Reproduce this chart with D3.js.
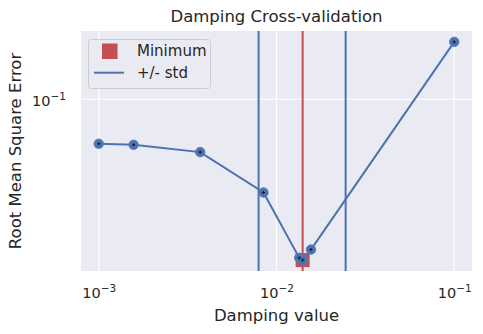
<!DOCTYPE html>
<html>
<head>
<meta charset="utf-8">
<script src="https://cdn.jsdelivr.net/npm/d3@7"></script>
<style>
  html, body { margin: 0; padding: 0; background: #ffffff; }
  svg { display: block; font-family: "DejaVu Sans", sans-serif; }
</style>
</head>
<body>
<svg id="chart" width="483" height="334"></svg>
<script>
// Cross-validation error for each damping value tried
const dampingValues = [0.001, 0.00157, 0.00372, 0.00845, 0.01343, 0.01403, 0.01563, 0.1];
const rmseValues    = [0.0596, 0.0589, 0.0541, 0.0338, 0.0158, 0.0154, 0.0174, 0.195];

// Best damping value and the one-std band around it
const minimumDamping = 0.01403;
const minimumRmse = 0.0154;
const stdBounds = [0.00793, 0.02449];

// Axis ticks
const xTickValues = [1e-3, 1e-2, 1e-1];
const xTickExponents = ["\u22123", "\u22122", "\u22121"];
const yTickValues = [1e-1];
const yTickExponents = ["\u22121"];

const title = "Damping Cross-validation";
const xLabel = "Damping value";
const yLabel = "Root Mean Square Error";
const legendLabels = ["Minimum", "+/- std"];

const blue = "#4c72b0";
const red = "#c44e52";

const svg = d3.select("#chart");
const plot = { left: 81, right: 472, top: 31, bottom: 271 };

// Log-space padding of 5% on each side of the data extent
function padLog(lo, hi, frac) {
  const a = Math.log10(lo), b = Math.log10(hi), d = (b - a) * frac;
  return [Math.pow(10, a - d), Math.pow(10, b + d)];
}

const x = d3.scaleLog()
  .domain(padLog(d3.min(dampingValues), d3.max(dampingValues), 0.05))
  .range([plot.left, plot.right]);
const y = d3.scaleLog()
  .domain(padLog(d3.min(rmseValues), d3.max(rmseValues), 0.05))
  .range([plot.bottom, plot.top]);

// Plot background
svg.append("rect")
  .attr("x", plot.left).attr("y", plot.top)
  .attr("width", plot.right - plot.left).attr("height", plot.bottom - plot.top)
  .attr("fill", "#eaeaf2");

// Grid lines
const grid = svg.append("g").attr("stroke", "#ffffff").attr("stroke-width", 1.1);
grid.selectAll("line.gx").data(xTickValues).join("line")
  .attr("x1", d => x(d)).attr("x2", d => x(d))
  .attr("y1", plot.top).attr("y2", plot.bottom);
grid.selectAll("line.gy").data(yTickValues).join("line")
  .attr("x1", plot.left).attr("x2", plot.right)
  .attr("y1", d => y(d)).attr("y2", d => y(d));

// Tick labels written as 10 with a superscript exponent
const xAxis = svg.append("g")
  .attr("transform", `translate(0,${plot.bottom})`)
  .call(d3.axisBottom(x).tickValues(xTickValues).tickSize(0).tickFormat(() => ""));
xAxis.select(".domain").remove();
xAxis.selectAll(".tick").each(function(d, i) {
  const t = d3.select(this).select("text")
    .attr("y", 0).attr("dy", 0)
    .attr("transform", "translate(0,27)")
    .attr("fill", "#262626").attr("font-size", 14.5)
    .attr("font-family", "DejaVu Sans").attr("text-anchor", "middle");
  t.append("tspan").text("10");
  t.append("tspan").attr("dy", -6).attr("font-size", 10.5).text(xTickExponents[i]);
});

const yAxis = svg.append("g")
  .attr("transform", `translate(${plot.left},0)`)
  .call(d3.axisLeft(y).tickValues(yTickValues).tickSize(0).tickFormat(() => ""));
yAxis.select(".domain").remove();
yAxis.selectAll(".tick").each(function(d, i) {
  const t = d3.select(this).select("text")
    .attr("x", 0).attr("dy", 0)
    .attr("transform", "translate(-15,6)")
    .attr("fill", "#262626").attr("font-size", 14.5)
    .attr("font-family", "DejaVu Sans").attr("text-anchor", "end");
  t.append("tspan").text("10");
  t.append("tspan").attr("dy", -6).attr("font-size", 10.5).text(yTickExponents[i]);
});

// Clip marks to the plot area
svg.append("clipPath").attr("id", "plotclip").append("rect")
  .attr("x", plot.left).attr("y", plot.top)
  .attr("width", plot.right - plot.left).attr("height", plot.bottom - plot.top);
const marks = svg.append("g").attr("clip-path", "url(#plotclip)");

// Minimum marker
const sq = 14;
marks.append("rect")
  .attr("x", x(minimumDamping) - sq / 2).attr("y", y(minimumRmse) - sq / 2)
  .attr("width", sq).attr("height", sq)
  .attr("fill", red);

// Std bounds and minimum position
marks.selectAll("line.std").data(stdBounds).join("line")
  .attr("x1", d => x(d)).attr("x2", d => x(d))
  .attr("y1", plot.top).attr("y2", plot.bottom)
  .attr("stroke", blue).attr("stroke-width", 2);
marks.append("line")
  .attr("x1", x(minimumDamping)).attr("x2", x(minimumDamping))
  .attr("y1", plot.top).attr("y2", plot.bottom)
  .attr("stroke", red).attr("stroke-width", 2);

// Error curve
const pts = dampingValues.map((d, i) => [d, rmseValues[i]]);
marks.append("path")
  .datum(pts)
  .attr("d", d3.line().x(d => x(d[0])).y(d => y(d[1])))
  .attr("fill", "none").attr("stroke", blue).attr("stroke-width", 2);
marks.selectAll("circle.pt").data(pts).join("circle")
  .attr("cx", d => x(d[0])).attr("cy", d => y(d[1])).attr("r", 4.8)
  .attr("fill", blue).attr("stroke", "#5a7fba").attr("stroke-width", 0.8);
// Small cross at each evaluated point
const cr = 1.6;
marks.selectAll("path.cross").data(pts).join("path")
  .attr("d", d => {
    const cx = x(d[0]), cy = y(d[1]);
    return `M${cx - cr},${cy}H${cx + cr}M${cx},${cy - cr}V${cy + cr}`;
  })
  .attr("stroke", "#111111").attr("stroke-width", 0.9);

// Title and axis labels
svg.append("text")
  .attr("x", (plot.left + plot.right) / 2).attr("y", 22)
  .attr("text-anchor", "middle").attr("font-size", 16.5).attr("fill", "#262626")
  .text(title);
svg.append("text")
  .attr("x", (plot.left + plot.right) / 2).attr("y", 321)
  .attr("text-anchor", "middle").attr("font-size", 16.5).attr("fill", "#262626")
  .text(xLabel);
svg.append("text")
  .attr("transform", `translate(21,${(plot.top + plot.bottom) / 2}) rotate(-90)`)
  .attr("text-anchor", "middle").attr("font-size", 16.5).attr("fill", "#262626")
  .text(yLabel);

// Legend
const legend = svg.append("g");
legend.append("rect")
  .attr("x", 88.5).attr("y", 39.5).attr("width", 122).attr("height", 49)
  .attr("rx", 3).attr("fill", "#eaeaf2").attr("fill-opacity", 0.8)
  .attr("stroke", "#cccccc").attr("stroke-width", 1);
legend.append("rect")
  .attr("x", 102).attr("y", 43.5).attr("width", 15.5).attr("height", 15.5)
  .attr("fill", red);
legend.append("line")
  .attr("x1", 94).attr("x2", 124).attr("y1", 72.7).attr("y2", 72.7)
  .attr("stroke", blue).attr("stroke-width", 2);
legend.selectAll("text.lg").data(legendLabels).join("text")
  .attr("x", 137).attr("y", (d, i) => 56 + i * 22)
  .attr("font-size", 15).attr("fill", "#262626")
  .text(d => d);
</script>
</body>
</html>
